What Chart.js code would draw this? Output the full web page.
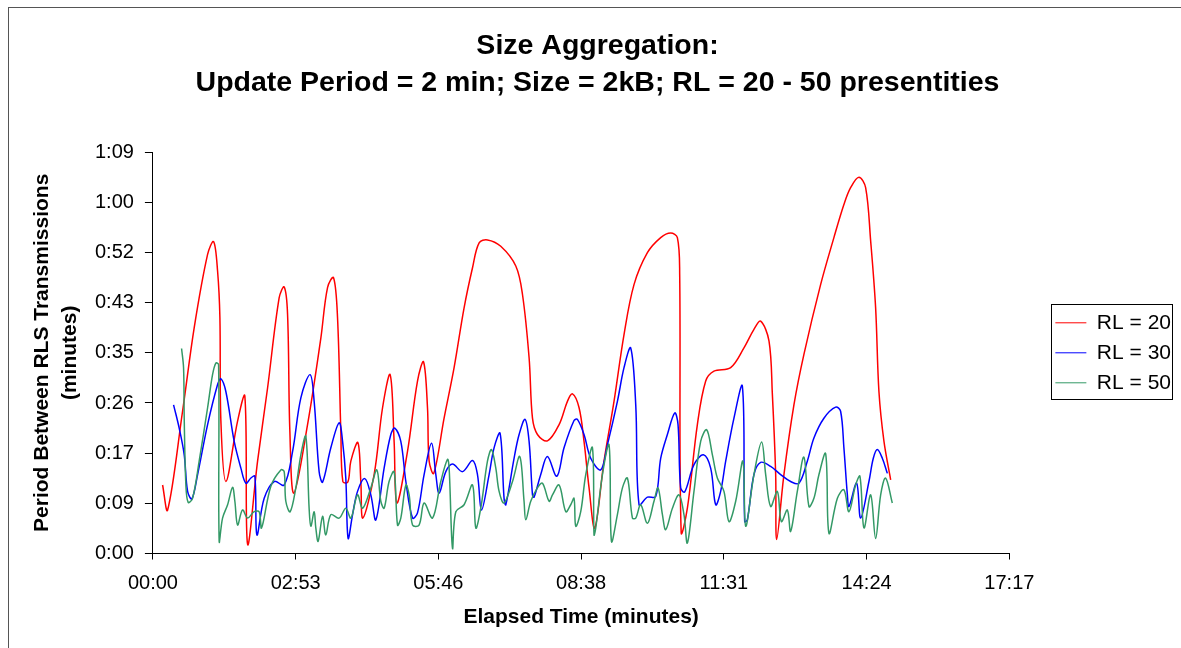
<!DOCTYPE html>
<html>
<head>
<meta charset="utf-8">
<title>Size Aggregation</title>
<script src="https://cdn.jsdelivr.net/npm/chart.js@4/dist/chart.umd.min.js"></script>
<style>
  body { margin: 0; background: #fff; }
  canvas { display: block; }
</style>
</head>
<body>
<canvas id="chart" width="1181" height="648"></canvas>
<script>
// times and periods are in seconds, shown as mm:ss on the axes
const xTickValues = [0, 172.8, 345.6, 518.4, 691.2, 864, 1036.8];
const xTickLabels = ['00:00', '02:53', '05:46', '08:38', '11:31', '14:24', '17:17'];
const yTickValues = [0, 8.64, 17.28, 25.92, 34.56, 43.2, 51.84, 60.48, 69.12];
const yTickLabels = ['0:00', '0:09', '0:17', '0:26', '0:35', '0:43', '0:52', '1:00', '1:09'];

const seriesLabels = ['RL = 20', 'RL = 30', 'RL = 50'];

const rl20Time = [11.7, 17.8, 35.9, 50.0, 66.2, 73.5, 78.3, 81.1, 82.3, 88.3, 102.5, 111.3, 114.6, 126.7, 138.8, 152.8, 158.9, 163.0, 165.8, 170.6,
    187.2, 203.3, 211.4, 218.7, 223.5, 227.5, 229.9, 236.0, 239.6, 248.1, 251.7, 254.1, 267.8, 278.0, 287.2, 292.0, 295.3, 308.2, 320.3, 327.6,
    332.4, 334.4, 340.0, 352.5, 364.6, 376.7, 386.9, 394.9, 405.0, 421.1, 439.3, 447.4, 455.4, 459.5, 465.5, 477.6, 491.7, 501.8, 507.9, 515.9,
    521.9, 528.0, 534.9, 546.1, 558.2, 570.3, 582.4, 598.6, 614.7, 626.8, 634.9, 637.7, 639.5, 647.0, 659.1, 669.2, 679.2, 699.4, 715.5, 727.6,
    735.7, 745.8, 749.9, 753.9, 755.1, 763.9, 776.0, 788.1, 808.3, 824.4, 836.5, 844.6, 854.7, 862.8, 868.9, 874.9, 878.9, 885.0, 893.1];
const rl20Period = [11.8, 7.5, 24.5, 38.9, 51.5, 53.7, 48.6, 40.6, 22.8, 12.4, 22.8, 27.1, 1.6, 15.9, 28.5, 44.0, 45.9, 41.2, 21.0, 10.4,
    22.2, 37.1, 45.8, 47.5, 40.6, 21.0, 12.4, 12.3, 15.9, 19.1, 12.4, 6.1, 13.6, 25.1, 30.8, 19.3, 8.7, 17.6, 29.7, 33.0,
    25.1, 15.9, 13.8, 23.3, 32.0, 42.3, 49.2, 53.5, 54.0, 52.9, 49.5, 44.6, 33.7, 23.3, 20.5, 19.4, 22.2, 26.2, 27.5, 25.1,
    19.3, 11.3, 4.4, 15.9, 26.2, 37.7, 46.3, 51.8, 54.4, 55.2, 54.4, 48.1, 3.6, 7.8, 22.2, 29.7, 31.4, 32.0, 35.4, 38.6,
    40.0, 36.6, 27.4, 13.6, 2.4, 13.6, 25.6, 34.3, 46.3, 54.4, 60.1, 63.0, 64.8, 63.0, 53.8, 42.3, 27.9, 19.3, 12.7];

const rl30Time = [25.0, 31.8, 37.9, 42.0, 47.2, 54.1, 66.2, 78.3, 82.3, 88.3, 98.4, 106.5, 112.5, 118.6, 123.4, 125.9, 134.7, 146.8, 158.9, 169.1,
    179.1, 190.3, 195.2, 201.2, 205.4, 215.4, 225.4, 229.6, 233.5, 236.3, 241.7, 247.7, 256.5, 263.8, 269.9, 279.9, 288.0, 292.8, 300.1, 306.2,
    314.3, 320.3, 328.3, 337.3, 342.5, 346.5, 354.6, 362.7, 374.8, 386.9, 392.9, 397.8, 407.0, 413.0, 420.3, 425.1, 427.2, 437.2, 443.3, 450.5,
    455.4, 459.5, 461.4, 469.5, 477.6, 488.9, 497.7, 509.8, 513.9, 521.9, 530.0, 542.1, 550.2, 562.3, 570.3, 578.4, 584.5, 588.5, 598.6, 608.7,
    614.7, 622.8, 631.7, 635.7, 638.9, 643.8, 655.0, 666.4, 675.2, 681.3, 687.3, 693.4, 703.4, 713.6, 716.4, 719.6, 727.6, 735.7, 747.8, 759.9,
    772.0, 782.1, 792.2, 800.2, 812.3, 826.5, 832.5, 836.5, 840.7, 842.6, 851.9, 856.8, 866.8, 872.1, 877.0, 883.0, 889.1];
const rl30Period = [25.6, 21.6, 17.0, 10.7, 9.4, 13.6, 22.2, 29.1, 30.1, 27.9, 19.3, 14.7, 12.1, 13.0, 13.3, 3.2, 9.5, 12.4, 11.8, 17.6,
    26.8, 30.8, 26.2, 14.1, 12.3, 18.2, 22.5, 19.3, 13.0, 2.6, 6.7, 10.7, 12.9, 10.1, 5.8, 14.7, 20.5, 21.6, 19.3, 12.4,
    6.1, 7.0, 13.6, 19.0, 13.6, 10.4, 14.1, 15.4, 14.1, 16.0, 13.6, 7.5, 13.6, 18.2, 20.7, 9.5, 8.4, 16.4, 20.5, 23.1,
    19.3, 10.1, 9.7, 13.6, 16.7, 13.3, 18.2, 22.9, 23.1, 20.5, 16.4, 14.4, 18.7, 26.2, 32.0, 35.4, 25.6, 8.4, 9.7, 9.8,
    16.4, 20.5, 24.2, 22.2, 11.3, 10.6, 15.3, 17.0, 14.7, 8.4, 10.7, 15.9, 23.3, 28.8, 5.5, 5.8, 13.6, 15.7, 15.0, 13.6,
    12.4, 12.1, 15.9, 19.9, 23.3, 25.2, 24.5, 18.2, 10.1, 8.1, 12.1, 6.1, 12.4, 16.4, 17.9, 16.4, 13.8];

const rl50Time = [34.7, 37.1, 37.9, 39.9, 42.7, 48.0, 56.0, 66.2, 72.2, 76.2, 79.5, 80.2, 84.3, 90.4, 96.4, 99.2, 102.5, 108.5, 114.6, 122.6,
    128.6, 131.5, 142.8, 154.9, 158.9, 160.9, 166.1, 173.0, 179.1, 185.1, 189.1, 191.2, 195.2, 197.2, 200.0, 205.4, 209.3, 215.4, 225.4, 233.5,
    239.6, 247.7, 253.8, 263.8, 271.1, 275.9, 279.9, 285.9, 292.0, 296.1, 300.1, 306.2, 310.2, 314.3, 322.2, 328.3, 338.5, 348.5, 356.6, 358.6,
    362.7, 366.7, 376.7, 386.9, 390.9, 396.9, 405.0, 409.9, 415.1, 419.1, 425.1, 435.3, 444.1, 449.3, 451.4, 457.4, 465.5, 471.6, 479.6, 483.7,
    491.7, 499.8, 505.8, 509.8, 511.9, 517.9, 524.0, 532.1, 534.0, 536.1, 544.2, 552.2, 555.1, 562.3, 568.4, 574.4, 580.5, 584.5, 590.5, 598.6,
    606.6, 611.5, 616.8, 620.8, 628.9, 636.9, 642.9, 647.0, 655.0, 663.1, 670.4, 677.3, 683.3, 691.3, 697.4, 705.5, 714.3, 717.6, 727.6, 736.9,
    741.8, 747.8, 755.9, 760.8, 768.0, 772.0, 780.1, 788.1, 794.2, 800.2, 806.3, 814.4, 818.4, 828.6, 836.5, 842.6, 850.7, 855.9, 860.8, 868.9,
    874.9, 881.0, 887.0, 895.1];
const rl50Period = [35.3, 32.0, 23.3, 11.8, 8.8, 9.5, 15.9, 25.1, 30.8, 32.8, 32.5, 2.1, 6.1, 8.4, 11.4, 9.0, 4.9, 7.5, 6.1, 7.2,
    7.2, 4.4, 11.6, 14.4, 14.1, 9.0, 7.2, 11.3, 17.0, 20.2, 7.8, 4.7, 7.2, 4.4, 2.1, 6.4, 3.2, 6.7, 6.1, 7.8,
    6.1, 10.1, 7.8, 11.3, 14.4, 9.0, 7.8, 12.4, 14.1, 4.9, 6.1, 11.8, 10.1, 4.9, 4.9, 8.7, 6.1, 12.4, 16.2, 14.7,
    0.9, 7.2, 8.4, 11.8, 4.4, 7.8, 15.9, 17.9, 14.7, 10.7, 8.7, 12.4, 16.7, 9.0, 5.8, 9.0, 11.3, 12.1, 9.0, 10.1,
    11.8, 7.2, 8.4, 9.5, 4.7, 7.2, 13.6, 18.2, 3.2, 4.4, 13.6, 18.7, 2.1, 6.7, 11.3, 13.0, 6.1, 6.1, 8.4, 5.2,
    9.0, 11.3, 6.7, 4.1, 7.8, 10.1, 6.7, 1.8, 10.7, 19.3, 21.3, 17.0, 13.0, 10.7, 5.5, 9.0, 15.9, 4.7, 13.6, 19.2,
    13.6, 8.1, 10.7, 5.5, 7.5, 3.8, 10.7, 16.6, 8.1, 9.5, 13.6, 17.2, 3.5, 9.5, 11.0, 7.2, 11.8, 13.3, 4.4, 10.1,
    2.6, 10.1, 13.0, 8.7];

const fontFamily = "'Liberation Sans', Arial, sans-serif";

function toPoints(times, periods) {
    return times.map((t, i) => ({ x: t, y: periods[i] }));
}

// outer chart frame and the box round the legend
const framePlugin = {
    id: 'frame',
    afterDraw(chart) {
        const ctx = chart.ctx;
        ctx.save();
        ctx.lineWidth = 1;
        ctx.strokeStyle = '#555';
        ctx.strokeRect(8.5, 7.5, chart.width + 20, chart.height + 20);

        const boxes = chart.legend.legendHitBoxes;
        if (boxes && boxes.length) {
            const left = Math.round(boxes[0].left - 4) + 0.5;
            const top = Math.round(boxes[0].top - 8) + 0.5;
            const right = Math.round(Math.max(...boxes.map(b => b.left + b.width)) + 1) + 0.5;
            const last = boxes[boxes.length - 1];
            const bottom = Math.round(last.top + last.height + 6) + 0.5;
            ctx.strokeStyle = '#000';
            ctx.strokeRect(left, top, right - left, bottom - top);
        }
        ctx.restore();
    }
};

new Chart(document.getElementById('chart'), {
    type: 'line',
    data: {
        datasets: [
            {
                label: seriesLabels[0],
                data: toPoints(rl20Time, rl20Period),
                borderColor: '#ff0000',
                order: 3
            }, {
                label: seriesLabels[1],
                data: toPoints(rl30Time, rl30Period),
                borderColor: '#0000ff',
                order: 2
            }, {
                label: seriesLabels[2],
                data: toPoints(rl50Time, rl50Period),
                borderColor: '#339966',
                order: 1
            }
        ]
    },
    options: {
        responsive: false,
        animation: false,
        devicePixelRatio: 1,
        layout: {
            padding: { left: 14, right: 0, top: 14, bottom: 12 }
        },
        elements: {
            line: { borderWidth: 1.5, tension: 0.35, fill: false },
            point: { radius: 0 }
        },
        plugins: {
            title: {
                display: true,
                text: ['Size Aggregation:', 'Update Period = 2 min; Size = 2kB; RL = 20 - 50 presentities'],
                color: '#000',
                font: { family: fontFamily, size: 28.5, weight: 'bold', lineHeight: 1.3 },
                padding: { top: 14, bottom: 50 }
            },
            legend: {
                position: 'right',
                fullSize: false,
                labels: {
                    usePointStyle: true,
                    pointStyle: 'line',
                    pointStyleWidth: 31,
                    padding: 9,
                    color: '#000',
                    font: { family: fontFamily, size: 21 },
                    sort: (a, b) => a.datasetIndex - b.datasetIndex
                }
            },
            tooltip: { enabled: false }
        },
        scales: {
            x: {
                type: 'linear',
                position: 'bottom',
                min: 0,
                max: 1036.8,
                afterBuildTicks: axis => { axis.ticks = xTickValues.map(v => ({ value: v })); },
                ticks: {
                    callback: (value, index) => xTickLabels[index],
                    autoSkip: false,
                    maxRotation: 0,
                    padding: 12,
                    color: '#000',
                    font: { family: fontFamily, size: 20 }
                },
                grid: { drawOnChartArea: false, tickLength: 6, color: '#000' },
                border: { color: '#000' },
                title: {
                    display: true,
                    text: 'Elapsed Time (minutes)',
                    color: '#000',
                    font: { family: fontFamily, size: 21, weight: 'bold', lineHeight: 0.88 },
                    padding: { top: 0, bottom: 10 }
                }
            },
            y: {
                min: 0,
                max: 69.12,
                afterBuildTicks: axis => { axis.ticks = yTickValues.map(v => ({ value: v })); },
                ticks: {
                    callback: (value, index) => yTickLabels[index],
                    autoSkip: false,
                    padding: 11,
                    color: '#000',
                    font: { family: fontFamily, size: 20 }
                },
                grid: { drawOnChartArea: false, tickLength: 8, color: '#000' },
                border: { color: '#000' },
                title: {
                    display: true,
                    text: ['Period Between RLS Transmissions', '(minutes)'],
                    color: '#000',
                    font: { family: fontFamily, size: 21, weight: 'bold', lineHeight: 1.333 },
                    padding: { top: 14, bottom: 0 }
                }
            },
            // empty axis that only keeps a gap between the plot and the legend
            gap: {
                axis: 'y',
                position: 'right',
                ticks: { display: false },
                grid: { display: false },
                border: { display: false },
                afterFit: axis => { axis.width = 37; }
            }
        }
    },
    plugins: [framePlugin]
});
</script>
</body>
</html>
